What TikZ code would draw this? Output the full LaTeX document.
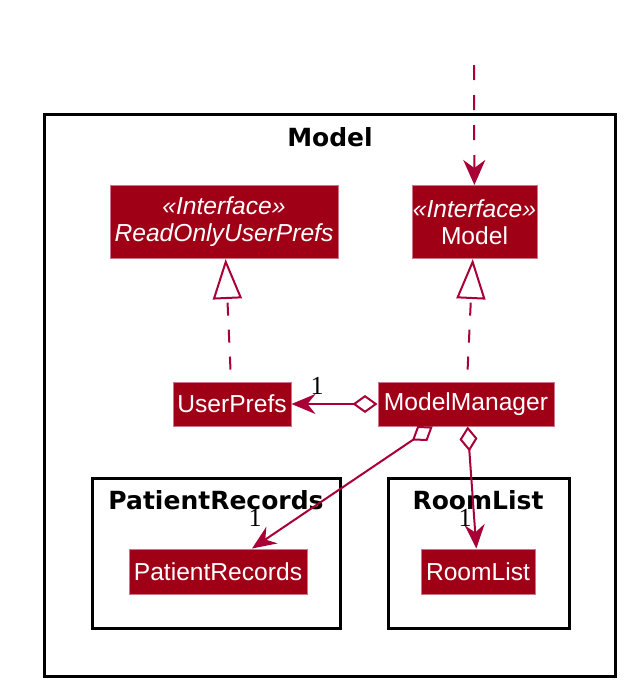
\documentclass[tikz,border=0pt]{standalone}
\usepackage{fontspec}
\setmainfont{Liberation Sans}
\newfontfamily\pkgfont{DejaVu Sans}
\newfontfamily\numfont{Liberation Serif}
\usepackage{xcolor}
\usepackage{tikz}
\usetikzlibrary{arrows.meta}

\definecolor{classred}{RGB}{160,0,22}
\definecolor{linkred}{RGB}{168,0,54}

\tikzset{
  cls/.style={fill=classred, draw=linkred!55!white, line width=0.5pt, text=white,
    font=\fontsize{12.3}{13.5}\selectfont, inner sep=0pt, align=center},
  pkg/.style={draw=black, line width=1.5pt},
  pkgtitle/.style={anchor=base, font=\pkgfont\bfseries\fontsize{12.5}{14}\selectfont},
  mult/.style={font=\numfont\fontsize{13}{14}\selectfont},
  realize/.style={draw=linkred, line width=1pt, dash pattern=on 6.5pt off 7pt,
    -{Triangle[open, length=20pt, width=14.5pt, fill=white]}},
  depend/.style={draw=linkred, line width=1pt, dash pattern=on 7.5pt off 7.5pt,
    -{Stealth[length=12.5pt, width=11pt, inset=4pt]}},
  aggreg/.style={draw=linkred, line width=1pt,
    {Diamond[open, length=12.5pt, width=9pt, fill=white]}-{Stealth[length=12pt, width=10pt, inset=4pt]}}
}

\begin{document}
\begin{tikzpicture}[x=0.5pt, y=-0.5pt]
    \useasboundingbox (0,0) rectangle (636,696);

    % Packages
    \draw[pkg] (44,114) rectangle (615,676);
    \node[pkgtitle] (ttlmodel) at (330,146) {Model};
    \draw[pkg] (92,478) rectangle (340,628);
    \node[pkgtitle] (ttlpatients) at (216,509) {PatientRecords};
    \draw[pkg] (388,478) rectangle (569,628);
    \node[pkgtitle] (ttlrooms) at (478,509) {RoomList};

    % Classes
    \node[cls, minimum width=114pt, minimum height=36.5pt] (roprefs) at (224,222)
        {\textit{«Interface»}\\\textit{ReadOnlyUserPrefs}};
    \node[cls, minimum width=62.5pt, minimum height=36.5pt] (modeliface) at (474.5,222)
        {\textit{«Interface»}\\Model};
    \node[cls, minimum width=59pt, minimum height=22pt] (userprefs) at (232,404) {UserPrefs};
    \node[cls, minimum width=88pt, minimum height=22pt] (manager) at (466,404) {ModelManager};
    \node[cls, minimum width=89pt, minimum height=22.5pt] (patients) at (218,571.5) {PatientRecords};
    \node[cls, minimum width=57pt, minimum height=22.5pt] (rooms) at (478,571.5) {RoomList};

    % Links
    \coordinate (outside) at (474,65);
    \draw[depend] (outside) -- (modeliface);
    \draw[realize, shorten <=6pt] (userprefs) -- (roprefs);
    \draw[realize, shorten <=6pt] (manager) -- (modeliface);
    \draw[aggreg] (manager) -- (userprefs);
    \draw[aggreg] (manager) -- (patients);
    \draw[aggreg] (manager) -- (rooms);

    % Multiplicities
    \node[mult] (m1) at (317,386) {1};
    \node[mult] (m2) at (255,518) {1};
    \node[mult] (m3) at (465,518) {1};
\end{tikzpicture}
\end{document}
